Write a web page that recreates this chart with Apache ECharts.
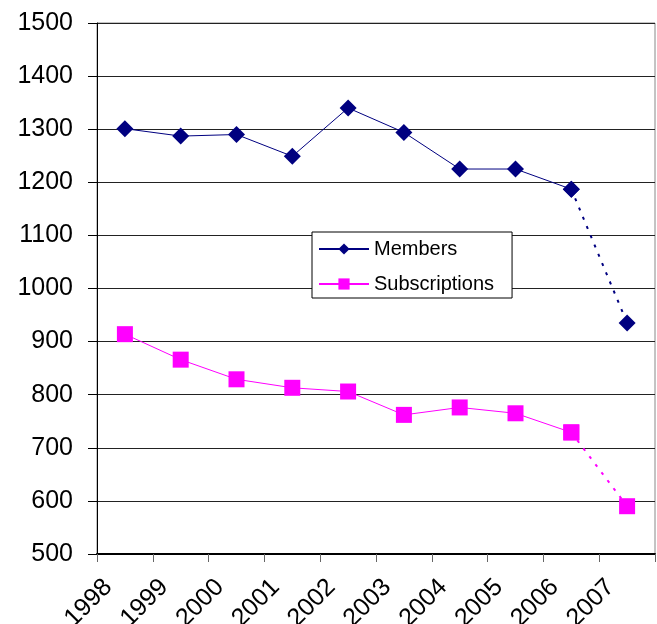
<!DOCTYPE html>
<html>
<head>
<meta charset="utf-8">
<script src="https://cdn.jsdelivr.net/npm/echarts@6/dist/echarts.min.js"></script>
<style>
html,body{margin:0;padding:0;background:#fff;}
#c{width:657px;height:624px;}
</style>
</head>
<body>
<div id="c"></div>
<script>
var years = ['1998','1999','2000','2001','2002','2003','2004','2005','2006','2007'];
var members = [1301, 1287, 1290, 1249, 1340, 1294, 1225, 1225, 1187, 935];
var subscriptions = [914, 866, 829, 813, 806, 762, 776, 765, 729, 590];
var yTicks = [500, 600, 700, 800, 900, 1000, 1100, 1200, 1300, 1400, 1500];

var FONT = '"Liberation Sans", Arial, sans-serif';
var NAVY = '#000080';
var MAG = '#FF00FF';

function pts(arr, from, to) {
  var out = [];
  for (var i = from; i <= to; i++) out.push([i + 0.5, arr[i]]);
  return out;
}
var last = years.length - 1;

var chart = echarts.init(document.getElementById('c'), null, {renderer: 'canvas'});
chart.setOption({
  animation: false,
  backgroundColor: '#fff',
  grid: {left: 97, right: 2, top: 23, bottom: 70, containLabel: false, outerBoundsMode: 'none',
    show: true, borderColor: '#888', borderWidth: 1, backgroundColor: 'transparent'},
  legend: {
    data: ['Members', 'Subscriptions'],
    orient: 'vertical',
    left: 312, top: 232,
    padding: [7, 18, 4, 6],
    itemGap: 15,
    itemWidth: 50, itemHeight: 14,
    backgroundColor: '#fff',
    borderColor: '#000', borderWidth: 1, borderRadius: 0,
    textStyle: {fontFamily: FONT, fontSize: 20, color: '#000', lineHeight: 20}
  },
  xAxis: {
    type: 'value', min: 0, max: years.length, interval: 1,
    axisLine: {show: true, onZero: false, lineStyle: {color: '#000', width: 2}},
    axisTick: {show: true, length: 8, lineStyle: {color: '#666', width: 1}},
    splitLine: {show: false},
    axisLabel: {
      rotate: 45, fontFamily: FONT, fontSize: 25, color: '#000', margin: 18,
      align: 'right', verticalAlign: 'top', lineHeight: 32,
      showMinLabel: true, showMaxLabel: true, hideOverlap: false,
      formatter: function (v) { return v < years.length ? years[v] : ''; }
    }
  },
  yAxis: {
    type: 'value', min: yTicks[0], max: yTicks[yTicks.length - 1], interval: 100,
    axisLine: {show: true, lineStyle: {color: '#000', width: 1}},
    axisTick: {show: true, length: 9, lineStyle: {color: '#000'}},
    splitLine: {show: true, lineStyle: {color: '#222', width: 1}},
    axisLabel: {fontFamily: FONT, fontSize: 25, color: '#000', margin: 24,
      showMinLabel: true, showMaxLabel: true,
      formatter: function (v) { return String(v); }}
  },
  series: [
    {
      name: 'Members', type: 'line', data: pts(members, 0, last - 1),
      symbol: 'diamond', symbolSize: 17,
      lineStyle: {color: NAVY, width: 1},
      itemStyle: {color: NAVY}, z: 3
    },
    {
      name: 'Members (2007)', type: 'line', data: pts(members, last - 1, last),
      symbol: 'diamond', symbolSize: 17,
      lineStyle: {color: NAVY, width: 2, type: [3, 7]},
      itemStyle: {color: NAVY}, z: 3
    },
    {
      name: 'Subscriptions', type: 'line', data: pts(subscriptions, 0, last - 1),
      symbol: 'rect', symbolSize: 16,
      lineStyle: {color: MAG, width: 1},
      itemStyle: {color: MAG}, z: 3
    },
    {
      name: 'Subscriptions (2007)', type: 'line', data: pts(subscriptions, last - 1, last),
      symbol: 'rect', symbolSize: 16,
      lineStyle: {color: MAG, width: 2, type: [3, 7]},
      itemStyle: {color: MAG}, z: 3
    }
  ]
});
</script>
</body>
</html>
